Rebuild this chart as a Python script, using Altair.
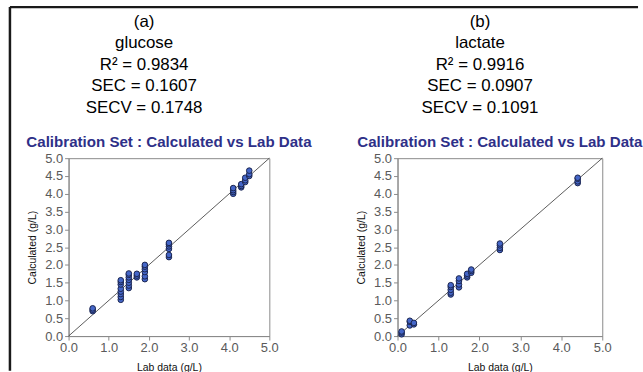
import altair as alt
import pandas as pd

FONT = "Liberation Sans"

# ---- data ----
glucose_lab = [0.6, 0.6, 0.6,
               1.3, 1.3, 1.3, 1.3, 1.3, 1.3, 1.3, 1.3,
               1.5, 1.5, 1.5, 1.5, 1.5, 1.5, 1.5,
               1.7, 1.7, 1.7,
               1.9, 1.9, 1.9, 1.9, 1.9, 1.9,
               2.5, 2.5, 2.5, 2.5, 2.5, 2.5,
               4.1, 4.1, 4.1, 4.1,
               4.3, 4.3, 4.3,
               4.4, 4.4, 4.4,
               4.5, 4.5, 4.5]
glucose_calc = [0.70, 0.74, 0.78,
                1.02, 1.10, 1.18, 1.25, 1.33, 1.45, 1.52, 1.57,
                1.35, 1.42, 1.50, 1.58, 1.65, 1.72, 1.76,
                1.65, 1.70, 1.75,
                1.60, 1.68, 1.80, 1.88, 1.95, 2.00,
                2.22, 2.28, 2.45, 2.52, 2.58, 2.62,
                4.00, 4.05, 4.10, 4.16,
                4.18, 4.22, 4.27,
                4.33, 4.38, 4.45,
                4.50, 4.55, 4.65]

lactate_lab = [0.1, 0.1, 0.1,
               0.3, 0.3, 0.3,
               0.4, 0.4,
               1.3, 1.3, 1.3, 1.3, 1.3,
               1.5, 1.5, 1.5, 1.5,
               1.7, 1.7, 1.7,
               1.8, 1.8, 1.8,
               2.5, 2.5, 2.5, 2.5,
               4.4, 4.4, 4.4, 4.4]
lactate_calc = [0.05, 0.10, 0.13,
                0.30, 0.40, 0.43,
                0.33, 0.37,
                1.17, 1.22, 1.30, 1.38, 1.43,
                1.37, 1.45, 1.55, 1.62,
                1.65, 1.70, 1.75,
                1.78, 1.83, 1.87,
                2.42, 2.48, 2.55, 2.60,
                4.30, 4.35, 4.42, 4.45]

header_a_lines = ["(a)", "glucose", "R\u00b2 = 0.9834", "SEC = 0.1607", "SECV = 0.1748"]
header_b_lines = ["(b)", "lactate", "R\u00b2 = 0.9916", "SEC = 0.0907", "SECV = 0.1091"]

ref_line = [0.0, 5.0]
x_ticks = [0.0, 1.0, 2.0, 3.0, 4.0, 5.0]
y_ticks = [0.0, 0.5, 1.0, 1.5, 2.0, 2.5, 3.0, 3.5, 4.0, 4.5, 5.0]

panel_title = "Calibration Set : Calculated vs Lab Data"
x_title = "Lab data (g/L)"
y_title = "Calculated (g/L)"

W_A, W_B, H = 202, 206, 179
HEAD_H = 108


def header(lines, width, cx, frame=False):
    df = pd.DataFrame({"i": list(range(len(lines))), "t": lines})
    txt = alt.Chart(df).mark_text(
        font=FONT, fontSize=17, color="black", baseline="middle", align="center"
    ).encode(
        x=alt.value(cx),
        y=alt.Y("i:Q", axis=None, scale=alt.Scale(domain=[-0.5, 4.5], reverse=True)),
        text="t:N",
    )
    layers = [txt]
    if frame:
        one = pd.DataFrame({"k": [0]})
        top = alt.Chart(one).mark_rule(color="#1a1a1a", strokeWidth=2.5).encode(
            x=alt.value(-59), x2=alt.value(573), y=alt.value(-4)
        )
        left = alt.Chart(one).mark_rule(color="#1a1a1a", strokeWidth=2.5).encode(
            x=alt.value(-59), y=alt.value(-4), y2=alt.value(362)
        )
        layers += [top, left]
    return alt.layer(*layers).properties(
        width=width, height=HEAD_H, view=alt.ViewBackground(stroke=None)
    )


def scatter(lab, calc, width):
    df = pd.DataFrame({"lab": lab, "calc": calc})
    ref = pd.DataFrame({"a": ref_line, "b": ref_line})
    xs = alt.Scale(domain=[0, 5], nice=False, zero=True)
    ys = alt.Scale(domain=[0, 5], nice=False, zero=True)
    xax = alt.Axis(values=x_ticks, format=".1f", title=x_title, grid=False,
                   labelFlush=False, labelOverlap=False)
    yax = alt.Axis(values=y_ticks, format=".1f", title=y_title, grid=False,
                   labelFlush=False, labelOverlap=False)
    line = alt.Chart(ref).mark_line(color="#333333", strokeWidth=0.8).encode(
        x=alt.X("a:Q", scale=xs, axis=xax),
        y=alt.Y("b:Q", scale=ys, axis=yax),
    )
    pts = alt.Chart(df).mark_circle(
        size=32, color="#4466c8", opacity=1, stroke="#1b2550", strokeWidth=1
    ).encode(
        x=alt.X("lab:Q", scale=xs, axis=xax),
        y=alt.Y("calc:Q", scale=ys, axis=yax),
    )
    return alt.layer(line, pts).properties(
        width=width,
        height=H,
        title=alt.TitleParams(
            panel_title, font=FONT, fontSize=15.2, fontWeight="bold",
            color="#2e3088", anchor="middle", baseline="bottom", offset=9, dy=22,
        ),
        view=alt.ViewBackground(stroke="#8a8a8a", strokeWidth=1),
    )


chart = alt.concat(
    header(header_a_lines, W_A, 76, frame=True),
    header(header_b_lines, W_B, 83),
    scatter(glucose_lab, glucose_calc, W_A),
    scatter(lactate_lab, lactate_calc, W_B),
    columns=2,
    spacing=alt.RowColnumber(row=40, column=129),
    bounds="flush",
).properties(
    padding={"left": 8, "top": 4, "right": 0, "bottom": 0},
    background="white",
).configure_axis(
    labelFont=FONT, labelFontSize=13, labelColor="#5a5a5a",
    titleFont=FONT, titleFontSize=10.5, titleFontWeight="normal", titleColor="#111111",
    domainColor="#8a8a8a", tickColor="#8a8a8a", tickSize=4, labelPadding=2,
).configure_axisY(titlePadding=7).configure_axisX(titlePadding=8)

chart.save("out.html", embed_options={"renderer": "svg", "actions": False})
